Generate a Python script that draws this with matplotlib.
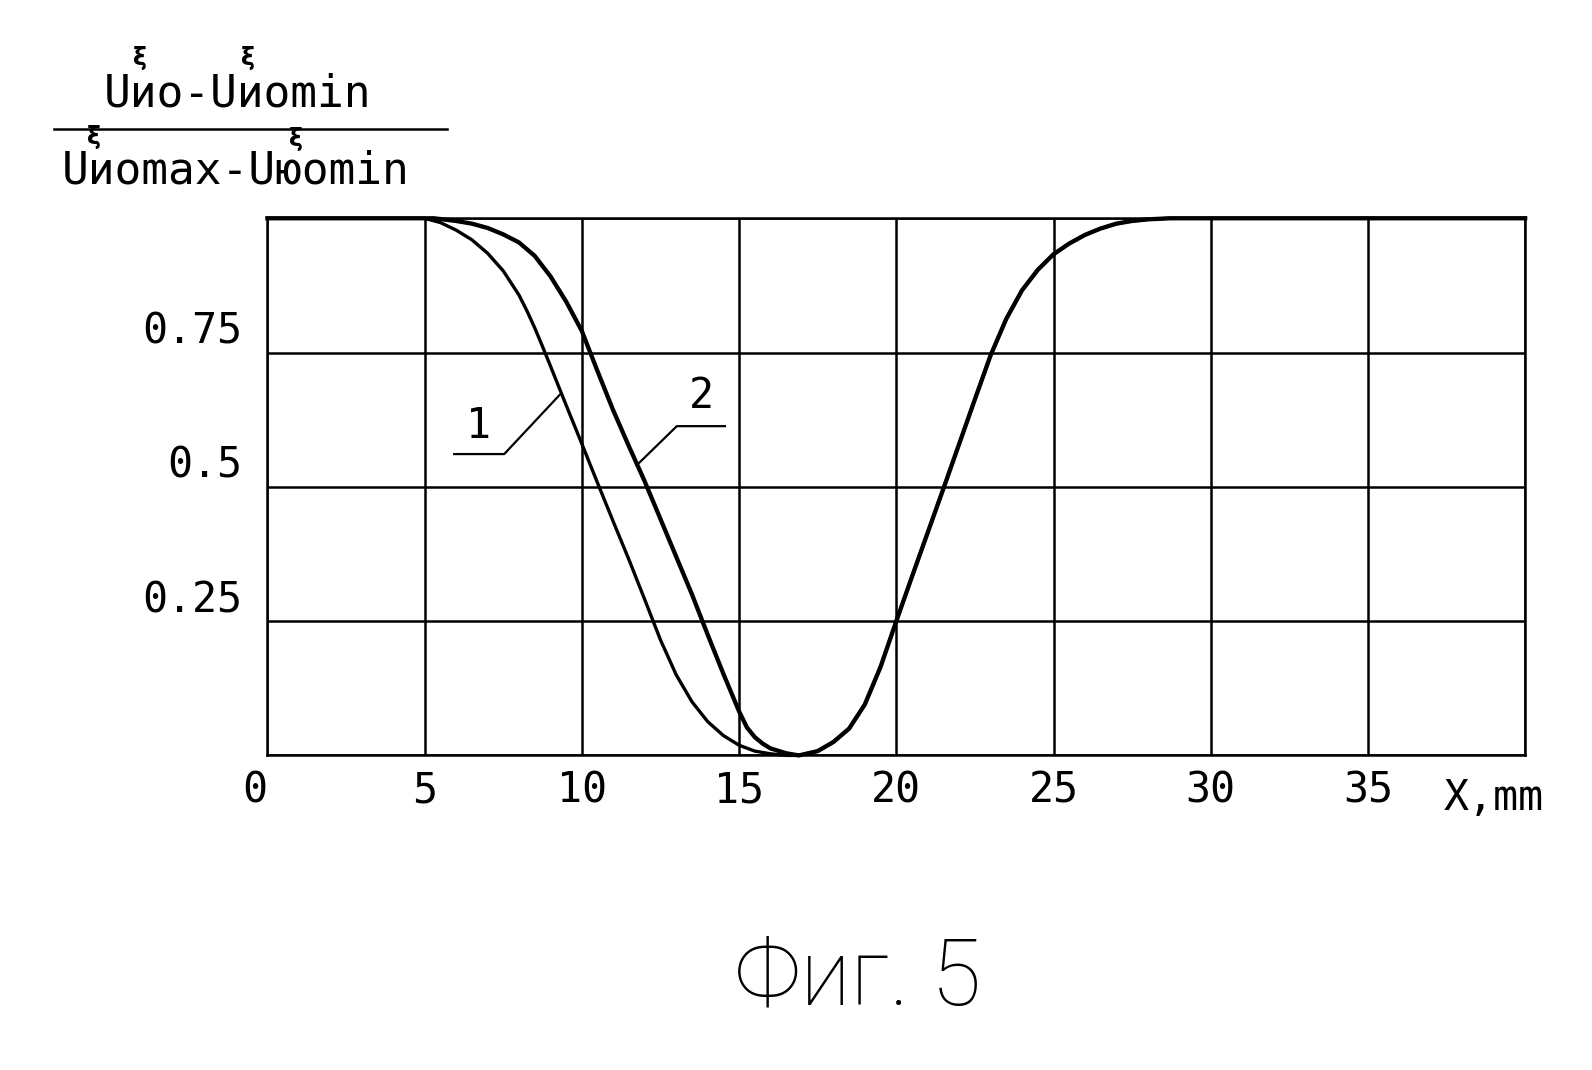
import matplotlib
matplotlib.use("Agg")
import matplotlib.pyplot as plt

# спадающий участок кривой 1
x_fall_1 = [0, 5.0, 5.5, 6.0, 6.5, 7.0, 7.5, 8.0, 8.25, 8.5, 8.75, 9.0, 9.5, 10.0, 10.5,
            11.0, 11.5, 12.0, 12.5, 13.0, 13.5, 14.0, 14.5, 15.0, 15.5, 16.0, 16.5]
y_fall_1 = [1.0, 1.0, 0.992, 0.978, 0.96, 0.935, 0.902, 0.857, 0.828, 0.796, 0.761, 0.725,
            0.652, 0.58, 0.507, 0.435, 0.364, 0.29, 0.215, 0.15, 0.10, 0.063, 0.037, 0.019,
            0.008, 0.003, 0.0]

# спадающий участок кривой 2
x_fall_2 = [0, 5.3, 6.0, 6.5, 7.0, 7.5, 8.0, 8.5, 9.0, 9.5, 10.0, 10.5, 11.0, 11.5, 12.0,
            12.5, 13.0, 13.5, 14.0, 14.5, 15.0, 15.25, 15.5, 15.75, 16.0, 16.5]
y_fall_2 = [1.0, 1.0, 0.995, 0.99, 0.982, 0.97, 0.955, 0.93, 0.892, 0.845, 0.79, 0.715,
            0.642, 0.575, 0.51, 0.44, 0.37, 0.30, 0.225, 0.152, 0.082, 0.052, 0.034, 0.022,
            0.013, 0.004]

# общий возрастающий участок
x_rise = [16.9, 17.5, 18.0, 18.5, 19.0, 19.5, 20.0, 20.5, 21.0, 21.5, 22.0, 22.5, 23.0,
          23.5, 24.0, 24.5, 25.0, 25.5, 26.0, 26.5, 27.0, 27.5, 28.0, 28.7, 40]
y_rise = [0.0, 0.008, 0.025, 0.05, 0.095, 0.165, 0.25, 0.333, 0.415, 0.497, 0.58, 0.663,
          0.745, 0.813, 0.866, 0.904, 0.933, 0.953, 0.969, 0.981, 0.99, 0.995, 0.998, 1.0, 1.0]

x_ticks = [0, 5, 10, 15, 20, 25, 30, 35, 40]
x_tick_labels = ['0', '5', '10', '15', '20', '25', '30', '35', '']
y_ticks = [0, 0.25, 0.5, 0.75, 1.0]
y_tick_labels = ['', '0.25', '0.5', '0.75', '']

mono = 'DejaVu Sans Mono'

fig = plt.figure(figsize=(15.92, 10.70), dpi=100)
ax = fig.add_axes([0.168, 0.294, 0.790, 0.502])

ax.plot(x_fall_1 + x_rise, y_fall_1 + y_rise, color='k', lw=2.4, clip_on=False,
        zorder=3, solid_joinstyle='round')
ax.plot(x_fall_2 + x_rise, y_fall_2 + y_rise, color='k', lw=3.1, clip_on=False,
        zorder=3, solid_joinstyle='round')

ax.set_xlim(0, 40)
ax.set_ylim(0, 1)
ax.set_xticks(x_ticks, x_tick_labels)
ax.set_yticks(y_ticks, y_tick_labels)
ax.grid(True, color='k', lw=1.8)
ax.tick_params(length=0, labelsize=30)
ax.tick_params(axis='x', pad=10)
ax.tick_params(axis='y', pad=18)
for lbl in ax.get_xticklabels() + ax.get_yticklabels():
    lbl.set_family(mono)
for lbl in ax.get_yticklabels():
    lbl.set_verticalalignment('bottom')
ax.get_xticklabels()[0].set_horizontalalignment('right')
for sp in ax.spines.values():
    sp.set_linewidth(1.8)

ax.text(40.6, -0.04, 'X,mm', family=mono, fontsize=30, ha='right', va='top',
        transform=ax.get_xaxis_transform())

# выноски с номерами кривых
ax.plot([5.94, 7.53, 9.29], [0.561, 0.561, 0.671], color='k', lw=1.6)
ax.text(6.7, 0.575, '1', family=mono, fontsize=30, ha='center', va='bottom')
ax.plot([11.74, 13.02, 14.55], [0.54, 0.613, 0.613], color='k', lw=1.6)
ax.text(13.8, 0.630, '2', family=mono, fontsize=30, ha='center', va='bottom')

# подпись оси Y в виде дроби
fig.text(0.149, 0.912, 'Uио-Uиomin', family=mono, fontsize=32, ha='center', va='center')
fig.text(0.148, 0.8406, 'Uиomax-Uюomin', family=mono, fontsize=32, ha='center', va='center')
fig.add_artist(plt.Line2D([0.034, 0.281], [0.8795, 0.8795], color='k', lw=1.8))
for xs, ys in [(0.088, 0.946), (0.156, 0.946), (0.059, 0.872), (0.186, 0.870)]:
    fig.text(xs, ys, 'ξ', fontsize=17, fontweight='bold', ha='center', va='center')

fig.text(0.539, 0.085, 'Фиг. 5', family=['Roboto', 'DejaVu Sans'], fontweight='light',
         fontsize=66, ha='center', va='center')

fig.savefig('out.png', dpi=100, facecolor='white')
